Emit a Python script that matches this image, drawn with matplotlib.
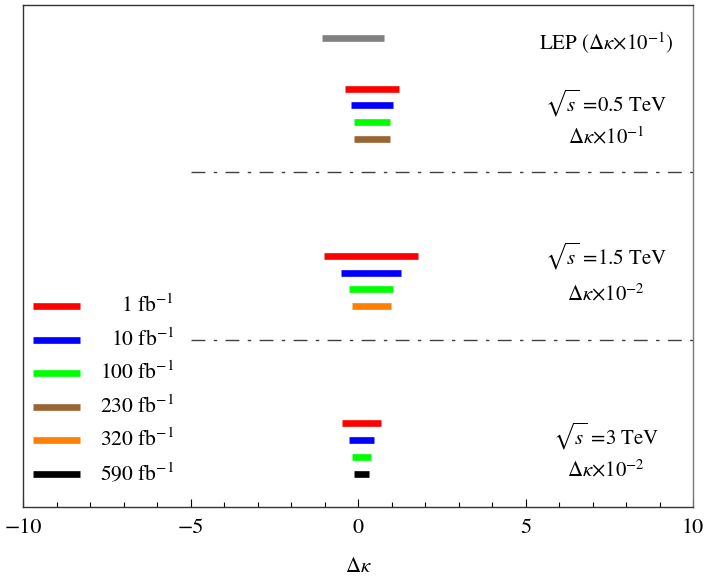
import matplotlib
matplotlib.use('Agg')
import matplotlib.pyplot as plt
from matplotlib.ticker import MultipleLocator

plt.rcParams['font.family'] = 'STIXGeneral'
plt.rcParams['mathtext.fontset'] = 'stix'

# Intervalli su Delta kappa (gia' riscalati) per ogni luminosita'
lumi_labels = ['1 fb$^{-1}$', '10 fb$^{-1}$', '100 fb$^{-1}$',
               '230 fb$^{-1}$', '320 fb$^{-1}$', '590 fb$^{-1}$']
lumi_colors = ['#ff0000', '#0000ff', '#00ff00', '#996633', '#ff8000', '#000000']

lep_range = (-1.07, 0.78)

# sqrt(s) = 0.5 TeV: 1, 10, 100, 230 fb^-1
tev05_lo = [-0.39, -0.21, -0.13, -0.12]
tev05_hi = [1.22, 1.04, 0.96, 0.95]
tev05_idx = [0, 1, 2, 3]

# sqrt(s) = 1.5 TeV: 1, 10, 100, 320 fb^-1
tev15_lo = [-1.01, -0.51, -0.26, -0.19]
tev15_hi = [1.80, 1.29, 1.04, 0.99]
tev15_idx = [0, 1, 2, 4]

# sqrt(s) = 3 TeV: 1, 10, 100, 590 fb^-1
tev3_lo = [-0.47, -0.27, -0.17, -0.13]
tev3_hi = [0.68, 0.49, 0.38, 0.34]
tev3_idx = [0, 1, 2, 5]

fig = plt.figure(figsize=(7.06, 5.76), dpi=100)
ax = fig.add_axes([0.0326, 0.1198, 0.949, 0.8715])
ax.set_xlim(-10, 10)
ax.set_ylim(0, 30)

bar_lw = 4.8

def draw_group(lo, hi, idx, y_top):
    for k, (a, b, c) in enumerate(zip(lo, hi, idx)):
        y = y_top - k
        ax.plot([a, b], [y, y], color=lumi_colors[c], lw=bar_lw,
                solid_capstyle='butt')

ax.plot(lep_range, [28, 28], color='#808080', lw=bar_lw, solid_capstyle='butt')
draw_group(tev05_lo, tev05_hi, tev05_idx, 25)
draw_group(tev15_lo, tev15_hi, tev15_idx, 15)
draw_group(tev3_lo, tev3_hi, tev3_idx, 5)

# separatori tratto-punto tra i gruppi
for ysep in (20, 10):
    ax.plot([-5, 10], [ysep, ysep], color='#404040', lw=1.0,
            dashes=[10, 6, 2.5, 6])

# legenda disegnata a mano
for k, (lab, col) in enumerate(zip(lumi_labels, lumi_colors)):
    y = 12 - 2 * k
    ax.plot([-9.7, -8.3], [y, y], color=col, lw=bar_lw, solid_capstyle='butt')
    ax.text(-5.49, y, lab, ha='right', va='center', fontsize=15.5)

fs = 15
xc = 7.4
ax.text(xc, 27.7, r'LEP $(\Delta\kappa{\times}10^{-1})$', ha='center', va='center', fontsize=fs)
ax.text(xc, 24.1, r'$\sqrt{s}$ =0.5 TeV', ha='center', va='center', fontsize=fs)
ax.text(xc, 22.05, r'$\Delta\kappa{\times}10^{-1}$', ha='center', va='center', fontsize=fs)
ax.text(xc, 15.0, r'$\sqrt{s}$ =1.5 TeV', ha='center', va='center', fontsize=fs)
ax.text(xc, 12.7, r'$\Delta\kappa{\times}10^{-2}$', ha='center', va='center', fontsize=fs)
ax.text(xc, 4.2, r'$\sqrt{s}$ =3 TeV', ha='center', va='center', fontsize=fs)
ax.text(xc, 2.2, r'$\Delta\kappa{\times}10^{-2}$', ha='center', va='center', fontsize=fs)

ax.xaxis.set_major_locator(MultipleLocator(5))
ax.xaxis.set_minor_locator(MultipleLocator(1))
ax.tick_params(axis='x', which='major', direction='in', length=6, width=0.8, labelsize=16, pad=8)
ax.tick_params(axis='x', which='minor', direction='in', length=3.5, width=0.8)
ax.set_yticks([])
for s in ax.spines.values():
    s.set_linewidth(1.0)
    s.set_color('#333333')
ax.spines['right'].set_color('#777777')
ax.set_xlabel(r'$\Delta\kappa$', fontsize=15, labelpad=14)

fig.savefig('out.png', dpi=100)
